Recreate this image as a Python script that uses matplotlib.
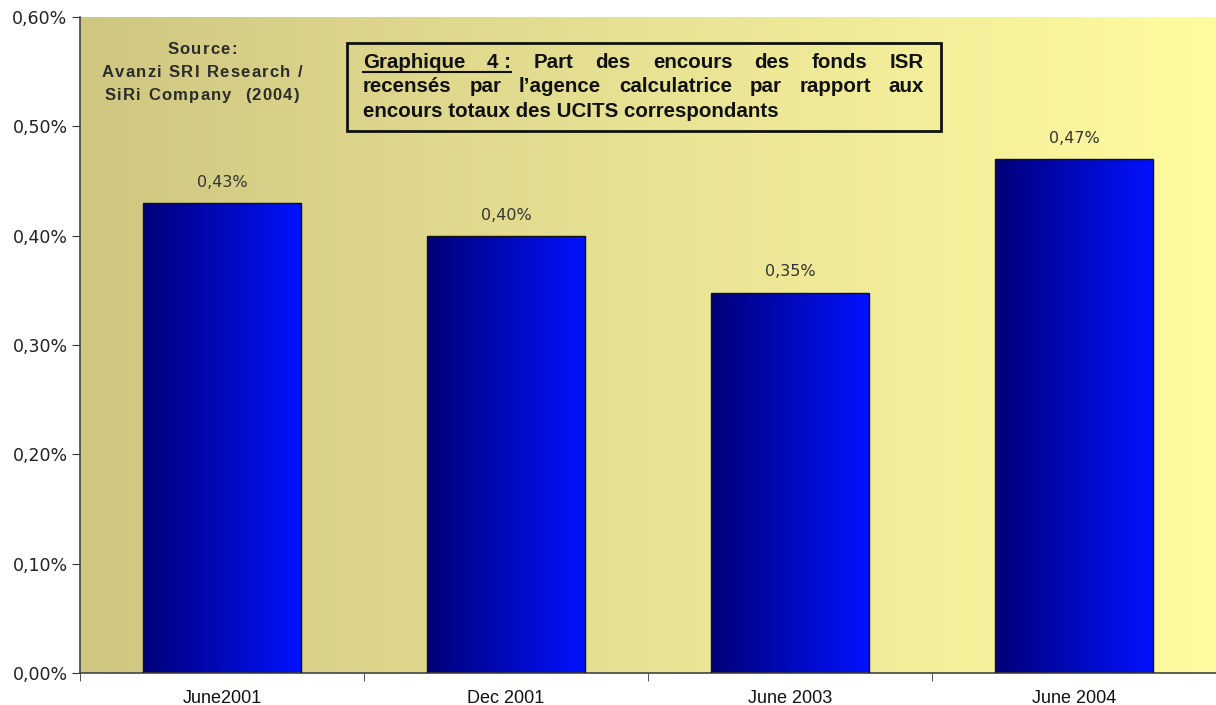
import numpy as np
import matplotlib
matplotlib.use("Agg")
import matplotlib.pyplot as plt
from matplotlib.colors import LinearSegmentedColormap
from matplotlib.ticker import FuncFormatter, FixedLocator
from matplotlib.patches import Rectangle

plt.rcParams['font.family'] = ['Liberation Sans', 'DejaVu Sans']

periods = ["June2001", "Dec 2001", "June 2003", "June 2004"]
share = [0.43, 0.40, 0.348, 0.47]
share_labels = ["0,43%", "0,40%", "0,35%", "0,47%"]

W, H = 1216, 705
fig = plt.figure(figsize=(W / 100, H / 100), dpi=100)
ax = fig.add_axes([80 / W, 1 - 673 / H, 1 - 80 / W, (673 - 17) / H])

# background gradient
bg = LinearSegmentedColormap.from_list("bg", ["#cfc781", "#e8e294", "#fffba0"])
grad = np.linspace(0, 1, 256).reshape(1, -1)
ax.imshow(grad, cmap=bg, aspect="auto", extent=[0, 1, 0, 1],
          transform=ax.transAxes, zorder=0)

x = np.arange(len(periods))
bars = ax.bar(x, share, width=0.555, color="none", edgecolor="#111111",
              linewidth=1.0, zorder=3)

barcm = LinearSegmentedColormap.from_list("bars", ["#000078", "#0012ff"])
for b in bars:
    bx, by = b.get_x(), b.get_y()
    im = ax.imshow(grad, cmap=barcm, aspect="auto",
                   extent=[bx, bx + b.get_width(), by, by + b.get_height()],
                   zorder=2)
    im.set_clip_path(b)

for xi, v, lab in zip(x, share, share_labels):
    ax.text(xi, v + 0.012, lab, ha="center", va="bottom", fontsize=11.5,
            family="DejaVu Sans", color="#333333", zorder=4)

ax.set_xlim(-0.5, 3.5)
ax.set_ylim(0, 0.6)
ax.yaxis.set_major_locator(FixedLocator(np.arange(0, 0.61, 0.1)))
ax.yaxis.set_major_formatter(FuncFormatter(lambda v, p: ("%.2f%%" % v).replace(".", ",")))
ax.set_xticks(x)
ax.set_xticklabels(periods, fontsize=13, color="#111111")
ax.set_xticks([-0.5, 0.5, 1.5, 2.5], minor=True)
ax.tick_params(axis="x", which="major", length=0, pad=12)
ax.tick_params(axis="x", which="minor", length=6, color="#333333", direction="out")
ax.tick_params(axis="y", length=6, color="#333333", labelsize=12.5,
               labelcolor="#222222", pad=3)
for t in ax.get_yticklabels():
    t.set_family("DejaVu Sans")
for s in ["top", "right"]:
    ax.spines[s].set_visible(False)
for s in ["left", "bottom"]:
    ax.spines[s].set_color("#444444")
    ax.spines[s].set_linewidth(1.2)

fig.canvas.draw()
rend = fig.canvas.get_renderer()


def tracked(line, xc, yb, fs, track):
    objs = [fig.text(0, yb, ch, fontsize=fs, fontweight="bold", va="baseline",
                     color="#2b2b2b", zorder=6) for ch in line]
    widths = [o.get_window_extent(rend).width if ch != " " else fs * 0.28 * 100 / 72
              for o, ch in zip(objs, line)]
    total = sum(widths) + track * (len(line) - 1)
    cur = xc - total / 2
    for o, wd in zip(objs, widths):
        o.set_x(cur / W)
        cur += wd + track


# source note
src = ["Source:", "Avanzi SRI Research /", "SiRi Company  (2004)"]
for i, line in enumerate(src):
    tracked(line, 202, 1 - (54 + 23 * i) / H, 12, 1.3)

# title box
fig.patches.append(Rectangle((347 / W, 1 - 131 / H), (941 - 347) / W, (131 - 43) / H,
                             transform=fig.transFigure, fill=False,
                             edgecolor="#111111", linewidth=2, zorder=5))

lines = [["Graphique", "4 :", "Part", "des", "encours", "des", "fonds", "ISR"],
         ["recensés", "par", "l\u2019agence", "calculatrice", "par", "rapport", "aux"],
         ["encours totaux des UCITS correspondants"]]
left, right = 363, 924
fs = 14.8
for li, words in enumerate(lines):
    yb = 1 - (68 + 24.5 * li) / H
    objs = [fig.text(0, yb, w, fontsize=fs, fontweight="bold", va="baseline",
                     color="#111111", zorder=6) for w in words]
    widths = [o.get_window_extent(rend).width for o in objs]
    gap = (right - left - sum(widths)) / (len(words) - 1) if len(words) > 1 else 0
    cur = left
    for o, wd in zip(objs, widths):
        o.set_x(cur / W)
        cur += wd + gap
    if li == 0:
        end = left + widths[0] + gap + widths[1]
        fig.add_artist(plt.Line2D([left / W, end / W], [1 - 71.5 / H, 1 - 71.5 / H],
                                  transform=fig.transFigure, color="#111111",
                                  linewidth=1.5))

fig.savefig("out.png", dpi=100)
